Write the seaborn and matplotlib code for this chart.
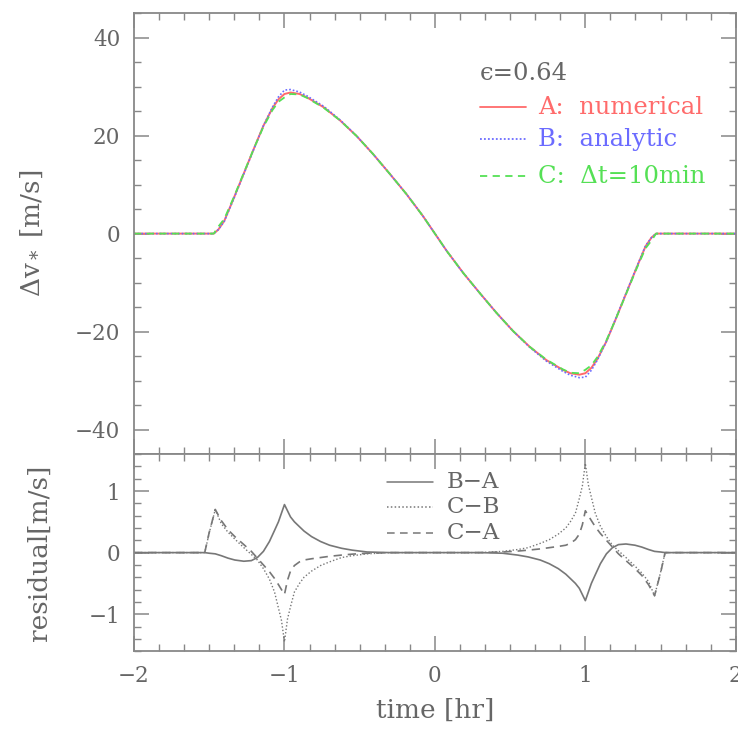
import numpy as np
import pandas as pd
import matplotlib
matplotlib.use("Agg")
import matplotlib.pyplot as plt
from matplotlib.ticker import MultipleLocator
import seaborn as sns

# ---------------- data ----------------
t_top = [-2.0, -1.47, -1.44, -1.40, -1.34, -1.27, -1.20, -1.14, -1.08, -1.04, -1.00,
         -0.96, -0.90, -0.85, -0.74, -0.63, -0.52, -0.41, -0.30, -0.19, -0.08, 0.0,
         0.08, 0.19, 0.30, 0.41, 0.52, 0.63, 0.74, 0.85, 0.90, 0.96, 1.00, 1.04,
         1.08, 1.14, 1.20, 1.27, 1.34, 1.40, 1.44, 1.47, 2.0]
v_A = [0.0, 0.0, 0.8, 2.6, 7.0, 12.3, 17.6, 22.0, 25.6, 27.4, 28.5,
       28.8, 28.5, 27.8, 25.8, 23.1, 19.9, 16.2, 12.2, 8.1, 3.6, 0.0,
       -3.6, -8.1, -12.2, -16.2, -19.9, -23.1, -25.8, -27.8, -28.5, -28.8, -28.5, -27.4,
       -25.6, -22.0, -17.6, -12.3, -7.0, -2.6, -0.8, 0.0, 0.0]
v_B = [0.0, 0.0, 0.8, 2.5, 6.9, 12.2, 17.5, 22.0, 25.8, 27.9, 29.3,
       29.4, 28.9, 28.1, 26.0, 23.2, 19.9, 16.2, 12.2, 8.1, 3.6, 0.0,
       -3.6, -8.1, -12.2, -16.2, -19.9, -23.2, -26.0, -28.1, -28.9, -29.4, -29.3, -27.9,
       -25.8, -22.0, -17.5, -12.2, -6.9, -2.5, -0.8, 0.0, 0.0]
v_C = [0.0, 0.0, 1.4, 3.0, 7.2, 12.4, 17.6, 21.8, 25.2, 26.9, 27.8,
       28.5, 28.4, 27.7, 25.7, 23.1, 19.9, 16.2, 12.2, 8.1, 3.6, 0.0,
       -3.6, -8.1, -12.2, -16.2, -19.9, -23.1, -25.7, -27.7, -28.4, -28.5, -27.8, -26.9,
       -25.2, -21.8, -17.6, -12.4, -7.2, -3.0, -1.4, 0.0, 0.0]

t_res = [-2.0, -1.55, -1.53, -1.50, -1.46, -1.42, -1.375, -1.33, -1.27, -1.22, -1.18,
         -1.14, -1.10, -1.066, -1.04, -1.02, -1.00, -0.98, -0.96, -0.934, -0.90, -0.87,
         -0.82, -0.76, -0.70, -0.62, -0.55, -0.45, -0.30, 0.0,
         0.30, 0.45, 0.55, 0.62, 0.70, 0.76, 0.82, 0.87, 0.90, 0.934, 0.96, 0.98,
         1.00, 1.02, 1.04, 1.066, 1.10, 1.14, 1.18, 1.22, 1.27, 1.33, 1.375, 1.42,
         1.46, 1.50, 1.53, 1.55, 2.0]
r_BA = [0.0, 0.0, 0.0, -0.01, -0.02, -0.05, -0.09, -0.12, -0.14, -0.13, -0.08,
        0.02, 0.18, 0.36, 0.50, 0.64, 0.78, 0.68, 0.58, 0.50, 0.42, 0.35,
        0.26, 0.18, 0.12, 0.07, 0.04, 0.01, 0.0, 0.0,
        0.0, -0.01, -0.04, -0.07, -0.12, -0.18, -0.26, -0.35, -0.42, -0.50, -0.58, -0.68,
        -0.78, -0.64, -0.50, -0.36, -0.18, -0.02, 0.08, 0.13, 0.14, 0.12, 0.09, 0.05,
        0.02, 0.01, 0.0, 0.0, 0.0]
r_CB = [0.0, 0.0, 0.0, 0.32, 0.70, 0.47, 0.33, 0.22, 0.08, -0.03, -0.12,
        -0.26, -0.43, -0.64, -0.90, -1.10, -1.45, -1.08, -0.88, -0.64, -0.50, -0.40,
        -0.30, -0.21, -0.15, -0.08, -0.05, -0.02, 0.0, 0.0,
        0.0, 0.02, 0.05, 0.08, 0.15, 0.21, 0.30, 0.40, 0.50, 0.64, 0.88, 1.08,
        1.45, 1.10, 0.90, 0.64, 0.43, 0.26, 0.12, 0.03, -0.08, -0.22, -0.33, -0.47,
        -0.70, -0.32, 0.0, 0.0, 0.0]
r_CA = [0.0, 0.0, 0.0, 0.33, 0.70, 0.52, 0.37, 0.26, 0.13, 0.02, -0.09,
        -0.20, -0.31, -0.42, -0.52, -0.60, -0.68, -0.45, -0.30, -0.21, -0.15, -0.12,
        -0.10, -0.08, -0.06, -0.04, -0.025, -0.01, 0.0, 0.0,
        0.0, 0.01, 0.025, 0.04, 0.06, 0.08, 0.10, 0.12, 0.15, 0.21, 0.30, 0.45,
        0.68, 0.60, 0.52, 0.42, 0.31, 0.20, 0.09, -0.02, -0.13, -0.26, -0.37, -0.52,
        -0.70, -0.33, 0.0, 0.0, 0.0]

top_labels = ["A:  numerical", "B:  analytic", "C:  \u0394t=10min"]
res_labels = ["B\u2212A", "C\u2212B", "C\u2212A"]
eps_label = "\u03f5=0.64"

# ---------------- style ----------------
sns.set_theme(style="white")
GRAY = "#666666"
AX = "#888888"
plt.rcParams["font.family"] = ["DejaVu Serif", "DejaVu Sans"]
plt.rcParams["mathtext.fontset"] = "dejavuserif"
plt.rcParams.update({
    "axes.edgecolor": AX, "axes.linewidth": 1.3,
    "xtick.color": AX, "ytick.color": AX,
    "xtick.labelcolor": GRAY, "ytick.labelcolor": GRAY,
    "axes.labelcolor": GRAY, "text.color": GRAY,
})

fig = plt.figure(figsize=(7.38, 7.30), dpi=100)
ax1 = fig.add_axes([0.1816, 0.378, 0.8154, 0.604])
ax2 = fig.add_axes([0.1816, 0.108, 0.8154, 0.270])

RED, BLUE, GREEN = "#ff6b6b", "#6b6bff", "#55e055"

dtop = pd.DataFrame({"t": t_top, "A": v_A, "B": v_B, "C": v_C})
sns.lineplot(data=dtop, x="t", y="A", ax=ax1, color=RED, lw=1.4, linestyle="-", sort=False)
sns.lineplot(data=dtop, x="t", y="B", ax=ax1, color=BLUE, lw=1.2, linestyle=(0, (1, 1.2)), sort=False)
sns.lineplot(data=dtop, x="t", y="C", ax=ax1, color=GREEN, lw=1.3, linestyle=(0, (4, 3)), sort=False)

dres = pd.DataFrame({"t": t_res, "BA": r_BA, "CB": r_CB, "CA": r_CA})
RG = "#777777"
sns.lineplot(data=dres, x="t", y="BA", ax=ax2, color=RG, lw=1.2, linestyle="-", sort=False)
sns.lineplot(data=dres, x="t", y="CB", ax=ax2, color=RG, lw=1.0, linestyle=(0, (1, 1.5)), sort=False)
sns.lineplot(data=dres, x="t", y="CA", ax=ax2, color=RG, lw=1.2, linestyle=(0, (5, 3.5)), sort=False)

for ax in (ax1, ax2):
    ax.set_xlim(-2, 2)
    ax.xaxis.set_major_locator(MultipleLocator(1))
    ax.xaxis.set_minor_locator(MultipleLocator(1 / 6))
    ax.tick_params(which="both", direction="in", top=True, right=True,
                   bottom=True, left=True, labelsize=15.5, pad=10)
    ax.tick_params(which="major", length=11, width=1.1)
    ax.tick_params(which="minor", length=5, width=1.0)
    for s in ax.spines.values():
        s.set_visible(True)

ax1.set_ylim(-45, 45)
ax1.yaxis.set_major_locator(MultipleLocator(20))
ax1.yaxis.set_minor_locator(MultipleLocator(5))
ax1.tick_params(labelbottom=False)
ax1.set_xlabel("")
ax1.set_ylabel(r"$\Delta\mathrm{v}_*$ [m/s]", fontsize=19)
ax1.yaxis.set_label_coords(-0.148, 0.5)

ax2.set_ylim(-1.6, 1.6)
ax2.yaxis.set_major_locator(MultipleLocator(1))
ax2.yaxis.set_minor_locator(MultipleLocator(0.2))
ax2.set_ylabel("residual[m/s]", fontsize=19)
ax2.yaxis.set_label_coords(-0.136, 0.5)
ax2.set_xlabel("time [hr]", fontsize=19)
ax2.xaxis.set_label_coords(0.5, -0.235)

# legend for top panel (drawn by hand to match layout)
ax1.text(0.575, 0.864, eps_label, transform=ax1.transAxes, fontsize=17.5, color=GRAY,
         va="center", ha="left")
rows = [0.787, 0.714, 0.630]
cols = [RED, BLUE, GREEN]
styles = ["-", (0, (1, 1.2)), (0, (4, 3))]
for yy, lab, c, ls in zip(rows, top_labels, cols, styles):
    ax1.plot([0.575, 0.652], [yy, yy], transform=ax1.transAxes, color=c, ls=ls, lw=1.3)
    ax1.text(0.672, yy, lab, transform=ax1.transAxes, fontsize=17.5, color=c,
             va="center", ha="left")

rows2 = [0.86, 0.73, 0.60]
styles2 = ["-", (0, (1, 1.5)), (0, (5, 3.5))]
for yy, lab, ls in zip(rows2, res_labels, styles2):
    ax2.plot([0.42, 0.497], [yy, yy], transform=ax2.transAxes, color=RG, ls=ls, lw=1.1)
    ax2.text(0.52, yy, lab, transform=ax2.transAxes, fontsize=16.5, color=GRAY,
             va="center", ha="left")

fig.savefig("out.png", dpi=100)
